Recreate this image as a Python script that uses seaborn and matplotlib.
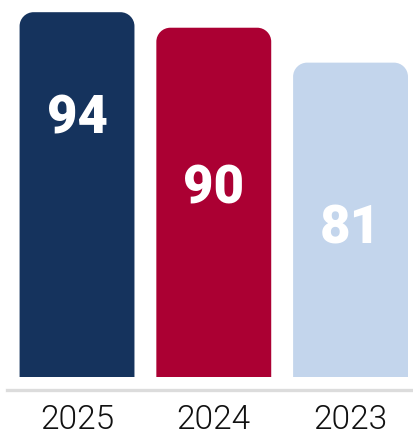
import matplotlib
matplotlib.use("Agg")
import matplotlib.pyplot as plt
from matplotlib.patches import PathPatch
from matplotlib.path import Path
import seaborn as sns
import pandas as pd

# Scores by year
years = ["2025", "2024", "2023"]
scores = [94, 90, 81]
bar_colors = ["#15335D", "#AB0033", "#C3D5EC"]

# Vertical placement of the value labels inside each bar (data units)
label_y = [66.8, 48.7, 38.4]

sns.set_theme(style="white")
plt.rcParams["font.family"] = ["Roboto", "DejaVu Sans"]

df = pd.DataFrame({"year": years, "score": scores})

fig = plt.figure(figsize=(4.14, 4.31), dpi=100)
ax = fig.add_axes([7 / 414, 53 / 431, 407 / 414, 378 / 431])

sns.barplot(data=df, x="year", y="score", hue="year", palette=bar_colors,
            order=years, hue_order=years, width=0.84, legend=False, ax=ax,
            saturation=1)

ax.set_xlim(-0.512, 2.464)
ax.set_ylim(0, 97.4)

fig.canvas.draw()
# pixels per data unit, so the corner radius is a fixed number of pixels
p0 = ax.transData.transform((0, 0))
p1 = ax.transData.transform((1, 1))
radius_px = 14
rx = radius_px / (p1[0] - p0[0])
ry = radius_px / (p1[1] - p0[1])
k = 0.5523  # cubic bezier approximation of a quarter circle


def top_rounded_bar(x, y, w, h):
    top = y + h
    verts = [
        (x, y),
        (x, top - ry),
        (x, top - ry + k * ry), (x + rx - k * rx, top), (x + rx, top),
        (x + w - rx, top),
        (x + w - rx + k * rx, top), (x + w, top - ry + k * ry), (x + w, top - ry),
        (x + w, y),
        (x, y),
    ]
    codes = [Path.MOVETO, Path.LINETO,
             Path.CURVE4, Path.CURVE4, Path.CURVE4,
             Path.LINETO,
             Path.CURVE4, Path.CURVE4, Path.CURVE4,
             Path.LINETO, Path.CLOSEPOLY]
    return Path(verts, codes)


for patch, color in zip(list(ax.patches), bar_colors):
    x, y = patch.get_x(), patch.get_y()
    w, h = patch.get_width(), patch.get_height()
    patch.set_visible(False)
    ax.add_patch(PathPatch(top_rounded_bar(x, y, w, h), facecolor=color,
                           edgecolor="none", zorder=2))

for i, (val, ly) in enumerate(zip(scores, label_y)):
    ax.text(i, ly, str(val), ha="center", va="center", color="white",
            fontsize=38, fontweight=900, zorder=3)

for side in ["top", "right", "left"]:
    ax.spines[side].set_visible(False)
ax.spines["bottom"].set_position(("outward", 9))
ax.spines["bottom"].set_color("#DCDCDC")
ax.spines["bottom"].set_linewidth(2.4)

ax.set_xlabel("")
ax.set_ylabel("")
ax.set_yticks([])
ax.tick_params(axis="x", length=0, pad=10, labelsize=24, labelcolor="#111111")
for lbl in ax.get_xticklabels():
    lbl.set_fontweight(300)

fig.savefig("out.png", dpi=100)
